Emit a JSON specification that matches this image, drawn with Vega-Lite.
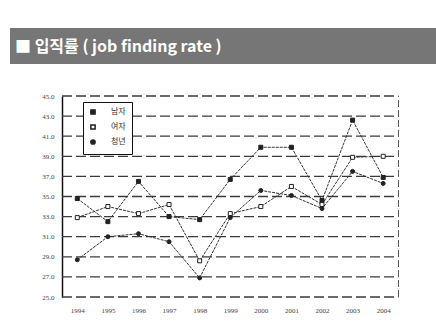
{
  "$schema": "https://vega.github.io/schema/vega-lite/v6.json",
  "padding": {"left": 10, "top": 28, "right": 0, "bottom": 0},
  "background": "white",
  "spacing": 28,
  "config": {
    "font": "Liberation Sans",
    "view": {"stroke": null},
    "axis": {"labelOverlap": false, "labelFlush": false, "ticks": false, "grid": false, "title": null, "labelFontSize": 7, "labelColor": "#444", "labelFont": "Liberation Sans Narrow"},
    "axisX": {"domain": false, "labelPadding": 9},
    "axisY": {"domainColor": "#111", "domainWidth": 1.5, "offset": -52, "minExtent": 0, "labelPadding": 8}
  },
  "datasets": {
    "rates": [
      {"year": 1994, "series": "남자", "rate": 34.8},
      {"year": 1995, "series": "남자", "rate": 32.5},
      {"year": 1996, "series": "남자", "rate": 36.5},
      {"year": 1997, "series": "남자", "rate": 33.0},
      {"year": 1998, "series": "남자", "rate": 32.7},
      {"year": 1999, "series": "남자", "rate": 36.7},
      {"year": 2000, "series": "남자", "rate": 39.9},
      {"year": 2001, "series": "남자", "rate": 39.9},
      {"year": 2002, "series": "남자", "rate": 34.6},
      {"year": 2003, "series": "남자", "rate": 42.6},
      {"year": 2004, "series": "남자", "rate": 36.9},
      {"year": 1994, "series": "여자", "rate": 32.9},
      {"year": 1995, "series": "여자", "rate": 34.0},
      {"year": 1996, "series": "여자", "rate": 33.3},
      {"year": 1997, "series": "여자", "rate": 34.2},
      {"year": 1998, "series": "여자", "rate": 28.6},
      {"year": 1999, "series": "여자", "rate": 33.3},
      {"year": 2000, "series": "여자", "rate": 34.0},
      {"year": 2001, "series": "여자", "rate": 36.0},
      {"year": 2002, "series": "여자", "rate": 34.2},
      {"year": 2003, "series": "여자", "rate": 38.9},
      {"year": 2004, "series": "여자", "rate": 39.0},
      {"year": 1994, "series": "청년", "rate": 28.7},
      {"year": 1995, "series": "청년", "rate": 31.0},
      {"year": 1996, "series": "청년", "rate": 31.3},
      {"year": 1997, "series": "청년", "rate": 30.5},
      {"year": 1998, "series": "청년", "rate": 26.9},
      {"year": 1999, "series": "청년", "rate": 32.9},
      {"year": 2000, "series": "청년", "rate": 35.6},
      {"year": 2001, "series": "청년", "rate": 35.1},
      {"year": 2002, "series": "청년", "rate": 33.8},
      {"year": 2003, "series": "청년", "rate": 37.5},
      {"year": 2004, "series": "청년", "rate": 36.3}
    ],
    "grid": [
      {"level": 25}, {"level": 27}, {"level": 29}, {"level": 31}, {"level": 33}, {"level": 35},
      {"level": 37}, {"level": 39}, {"level": 41}, {"level": 43}, {"level": 45}
    ],
    "heading": [{"label": "■  입직률 ( job finding rate )"}]
  },
  "vconcat": [
    {
      "width": 426,
      "height": 36,
      "view": {"fill": "#767676", "stroke": null},
      "data": {"name": "heading"},
      "mark": {"type": "text", "align": "left", "baseline": "middle", "color": "white", "fontSize": 16, "fontWeight": "bold", "font": "Noto Sans CJK KR", "dx": 5, "dy": 1},
      "encoding": {
        "x": {"datum": 0, "type": "quantitative", "scale": {"domain": [0, 1]}, "axis": null},
        "text": {"field": "label", "type": "nominal"}
      }
    },
    {
      "width": 390,
      "height": 201,
      "resolve": {"axis": {"x": "shared", "y": "shared"}},
      "layer": [
        {
          "data": {"name": "grid"},
          "mark": {"type": "rule", "color": "#3a3a3a", "strokeWidth": 1.3, "strokeDash": [10, 4]},
          "encoding": {
            "y": {"field": "level", "type": "quantitative",
              "scale": {"domain": [25, 45], "nice": false, "zero": false},
              "axis": {"values": [25, 27, 29, 31, 33, 35, 37, 39, 41, 43, 45], "format": ".1f"}},
            "x": {"datum": 1993.5, "type": "quantitative",
              "scale": {"domain": [1991.8, 2004.55], "nice": false, "zero": false},
              "axis": {"values": [1994, 1995, 1996, 1997, 1998, 1999, 2000, 2001, 2002, 2003, 2004], "format": "d"}},
            "x2": {"datum": 2004.5}
          }
        },
        {
          "data": {"values": [{}]},
          "mark": {"type": "rule", "color": "#555", "strokeWidth": 1, "strokeDash": [7, 3]},
          "encoding": {
            "x": {"datum": 2004.5, "type": "quantitative", "axis": {"values": [1994, 1995, 1996, 1997, 1998, 1999, 2000, 2001, 2002, 2003, 2004], "format": "d"}},
            "y": {"datum": 25, "type": "quantitative", "axis": {"values": [25, 27, 29, 31, 33, 35, 37, 39, 41, 43, 45], "format": ".1f"}},
            "y2": {"datum": 45}
          }
        },
        {
          "data": {"name": "rates"},
          "mark": {"type": "line", "color": "#333", "strokeWidth": 1, "strokeDash": [3, 1]},
          "encoding": {
            "x": {"field": "year", "type": "quantitative", "axis": {"values": [1994, 1995, 1996, 1997, 1998, 1999, 2000, 2001, 2002, 2003, 2004], "format": "d"}},
            "y": {"field": "rate", "type": "quantitative", "axis": {"values": [25, 27, 29, 31, 33, 35, 37, 39, 41, 43, 45], "format": ".1f"}},
            "detail": {"field": "series", "type": "nominal"}
          }
        },
        {
          "data": {"name": "rates"},
          "mark": {"type": "point", "stroke": "#222", "strokeWidth": 1, "size": 16, "opacity": 1},
          "encoding": {
            "x": {"field": "year", "type": "quantitative", "axis": {"values": [1994, 1995, 1996, 1997, 1998, 1999, 2000, 2001, 2002, 2003, 2004], "format": "d"}},
            "y": {"field": "rate", "type": "quantitative", "axis": {"values": [25, 27, 29, 31, 33, 35, 37, 39, 41, 43, 45], "format": ".1f"}},
            "shape": {"field": "series", "type": "nominal", "scale": {"domain": ["남자", "여자", "청년"], "range": ["square", "square", "circle"]},
              "legend": {"title": null, "orient": "none", "legendX": 73, "legendY": 74, "strokeColor": "#111", "fillColor": "white", "padding": 6, "labelFontSize": 8, "labelColor": "#333", "symbolSize": 18, "rowPadding": 3, "labelOffset": 14, "labelFont": "Noto Sans CJK KR"}},
            "fill": {"field": "series", "type": "nominal", "scale": {"domain": ["남자", "여자", "청년"], "range": ["#222", "white", "#222"]},
              "legend": {"title": null, "orient": "none", "legendX": 73, "legendY": 74, "strokeColor": "#111", "fillColor": "white", "padding": 6, "labelFontSize": 8, "labelColor": "#333", "symbolSize": 18, "rowPadding": 3, "labelOffset": 14, "labelFont": "Noto Sans CJK KR"}}
          }
        }
      ]
    }
  ]
}
